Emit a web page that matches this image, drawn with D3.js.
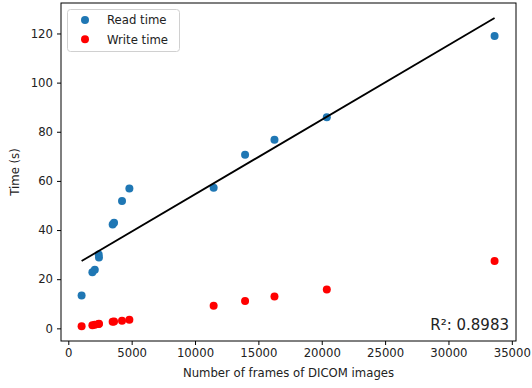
<!DOCTYPE html>
<html>
<head>
<meta charset="utf-8">
<script src="https://cdn.jsdelivr.net/npm/d3@7"></script>
<style>
  html, body { margin: 0; padding: 0; background: #fff; }
  svg { display: block; font-family: "DejaVu Sans", sans-serif; }
</style>
</head>
<body>
<svg id="chart" width="532" height="388"></svg>
<script>
// Number of DICOM frames per study
const frames = [1050, 1900, 2090, 2420, 2400, 3500, 3610, 4240, 4820, 11470, 13950, 16270, 20400, 33640];
// Measured read and write times (seconds)
const readTime = [13.4, 22.8, 23.8, 28.8, 30.1, 42.3, 43.0, 51.8, 56.9, 57.2, 70.6, 76.7, 85.9, 119.0];
const writeTime = [0.9, 1.3, 1.5, 1.9, 1.8, 2.7, 2.8, 3.1, 3.5, 9.2, 11.1, 13.0, 15.8, 27.4];
// Linear fit of read time against frame count
const fitSlope = 0.003035;
const fitIntercept = 24.2;
const rSquared = "0.8983";
// Axis ticks
const xTicks = [0, 5000, 10000, 15000, 20000, 25000, 30000, 35000];
const yTicks = [0, 20, 40, 60, 80, 100, 120];
const seriesNames = ["Read time", "Write time"];
const seriesColors = ["#1f77b4", "#ff0000"];

const svg = d3.select("#chart");
const plot = { left: 61, right: 516, top: 3, bottom: 341 };

const x = d3.scaleLinear().domain([-576, 35330]).range([plot.left, plot.right]);
const y = d3.scaleLinear().domain([-5.15, 132.4]).range([plot.bottom, plot.top]);

const fontSize = 11.7;

// Axes
const xAxis = svg.append("g")
  .attr("transform", `translate(0,${plot.bottom})`)
  .call(d3.axisBottom(x).tickValues(xTicks).tickFormat(d3.format("d")).tickSize(4).tickPadding(4));
const yAxis = svg.append("g")
  .attr("transform", `translate(${plot.left},0)`)
  .call(d3.axisLeft(y).tickValues(yTicks).tickFormat(d3.format("d")).tickSize(4).tickPadding(4));
[xAxis, yAxis].forEach(g => {
  g.select(".domain").remove();
  g.selectAll("line").attr("stroke", "#000").attr("stroke-width", 1);
  g.selectAll("text").attr("fill", "#222").style("font-size", fontSize + "px").style("font-family", "DejaVu Sans");
});

// Frame
svg.append("rect")
  .attr("x", plot.left).attr("y", plot.top)
  .attr("width", plot.right - plot.left).attr("height", plot.bottom - plot.top)
  .attr("fill", "none").attr("stroke", "#000").attr("stroke-width", 1);

const rows = frames.map((f, i) => ({ f, r: readTime[i], w: writeTime[i] }));

// Scatter points
const r = 4;
svg.append("g").selectAll("circle").data(rows).join("circle")
  .attr("cx", d => x(d.f)).attr("cy", d => y(d.r)).attr("r", r)
  .attr("fill", seriesColors[0]);
svg.append("g").selectAll("circle").data(rows).join("circle")
  .attr("cx", d => x(d.f)).attr("cy", d => y(d.w)).attr("r", r)
  .attr("fill", seriesColors[1]);

// Regression line across the frame range
const xExt = d3.extent(frames);
const line = d3.line().x(d => x(d)).y(d => y(fitIntercept + fitSlope * d));
svg.append("path")
  .attr("d", line(xExt))
  .attr("fill", "none").attr("stroke", "#000").attr("stroke-width", 1.8);

// R² annotation
svg.append("text")
  .attr("x", 509).attr("y", 330)
  .attr("text-anchor", "end")
  .style("font-size", "15px")
  .attr("fill", "#222")
  .text("R\u00b2: " + rSquared);

// Axis titles
svg.append("text")
  .attr("x", (plot.left + plot.right) / 2).attr("y", 377)
  .attr("text-anchor", "middle")
  .style("font-size", fontSize + "px")
  .attr("fill", "#222")
  .text("Number of frames of DICOM images");
svg.append("text")
  .attr("transform", `translate(19,${(plot.top + plot.bottom) / 2}) rotate(-90)`)
  .attr("text-anchor", "middle")
  .style("font-size", fontSize + "px")
  .attr("fill", "#222")
  .text("Time (s)");

// Legend
const legend = svg.append("g");
legend.append("rect")
  .attr("x", 67.5).attr("y", 9.5).attr("width", 112).attr("height", 42)
  .attr("rx", 3).attr("fill", "#fff").attr("fill-opacity", 0.8)
  .attr("stroke", "#d0d0d0").attr("stroke-width", 1);
seriesNames.forEach((name, i) => {
  const cy = 20 + i * 19.3;
  legend.append("circle").attr("cx", 85).attr("cy", cy).attr("r", r).attr("fill", seriesColors[i]);
  legend.append("text").attr("x", 107).attr("y", cy + 4.2)
    .style("font-size", fontSize + "px").attr("fill", "#222").text(name);
});
</script>
</body>
</html>
